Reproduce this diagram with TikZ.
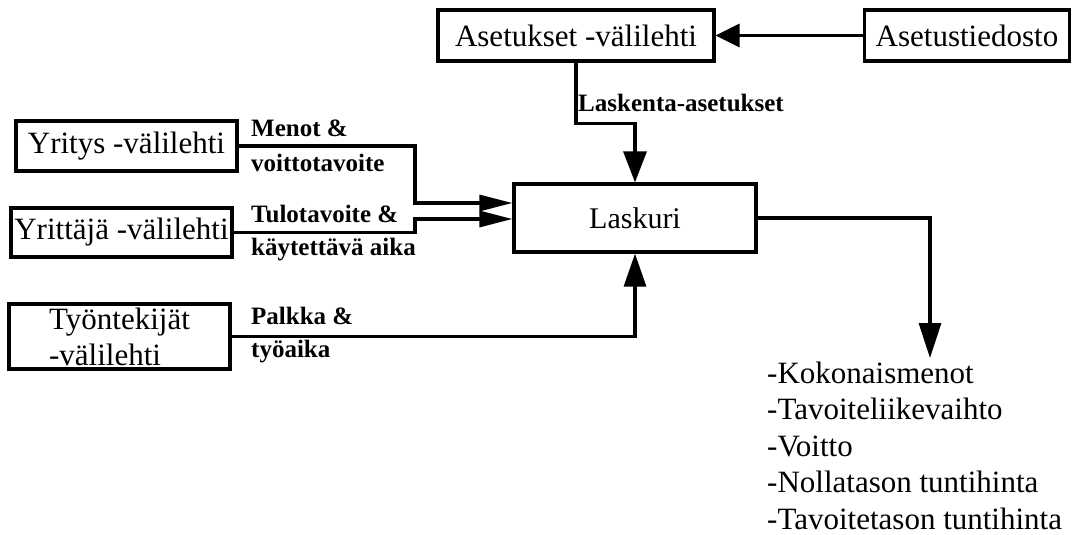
\documentclass[tikz,border=0pt]{standalone}
\usepackage{fontspec}
\setmainfont{Liberation Serif}
\usetikzlibrary{arrows.meta}
\begin{document}
\begin{tikzpicture}[x=1pt,y=-1pt,
  box/.style={draw,line width=3.2pt,inner sep=0pt,font=\fontsize{31}{36}\selectfont},
  lab/.style={inner sep=0pt,anchor=west,font=\bfseries\fontsize{25}{28}\selectfont},
  wire/.style={line width=3.2pt},
  outl/.style={inner sep=0pt,anchor=base west,font=\fontsize{31}{36}\selectfont}]
\fill[white] (0,0) rectangle (1074,535);
\useasboundingbox (0,0) rectangle (1074,535);
% boxes
\node[box,minimum width=276pt,minimum height=51pt] (aset) at (576,35.5) {Asetukset -välilehti};
\node[box,minimum width=205pt,minimum height=51pt] (tied) at (967,35.5) {Asetustiedosto};
\node[box,minimum width=242pt,minimum height=68pt,font=\fontsize{30}{36}\selectfont] (lask) at (635,218) {Laskuri};
\node[box,minimum width=221pt,minimum height=50pt] (yrit) at (126.5,146) {Yritys -välilehti};
\node[box,minimum width=221pt,minimum height=49pt] (yrja) at (121.5,232.5) {Yrittäjä -välilehti};
\node[box,minimum width=221pt,minimum height=65pt,align=left] (tyon) at (119.5,336.5) {Työntekijät\\-välilehti};
% connectors
\draw[wire,-{Triangle[length=24pt,width=23pt]}] (tied) -- (aset);
\draw[wire,-{Triangle[length=31pt,width=23pt]}] (aset.south) -- ++(0,61) -| (lask.north);
\coordinate (jx) at (415,0);
\draw[wire,-{Triangle[length=33pt,width=16pt]}] (yrit.east) -- (yrit.east -| jx) |- ([yshift=15pt]lask.west);
\draw[wire,-{Triangle[length=33pt,width=16pt]}] (yrja.east) -- (yrja.east -| jx) |- ([yshift=-1pt]lask.west);
\draw[wire,-{Triangle[length=33pt,width=22pt]}] (tyon.east) -| (lask.south);
\coordinate (outtip) at (930,358);
\draw[wire,-{Triangle[length=35pt,width=22pt]}] (lask.east) -| (outtip);
% labels
\node[lab] (l1) at (578,103) {Laskenta-asetukset};
\node[lab] (l2) at (251,128) {Menot \&};
\node[lab] (l3) at (251,163) {voittotavoite};
\node[lab] (l4) at (251,214) {Tulotavoite \&};
\node[lab] (l5) at (251,250) {käytettävä aika};
\node[lab] (l6) at (251,316) {Palkka \&};
\node[lab] (l7) at (251,352) {työaika};
% outputs
\node[outl] (o1) at (767,383) {-Kokonaismenot};
\node[outl] (o2) at (767,419.5) {-Tavoiteliikevaihto};
\node[outl] (o3) at (767,456) {-Voitto};
\node[outl] (o4) at (767,492.5) {-Nollatason tuntihinta};
\node[outl] (o5) at (767,529) {-Tavoitetason tuntihinta};
\end{tikzpicture}
\end{document}
